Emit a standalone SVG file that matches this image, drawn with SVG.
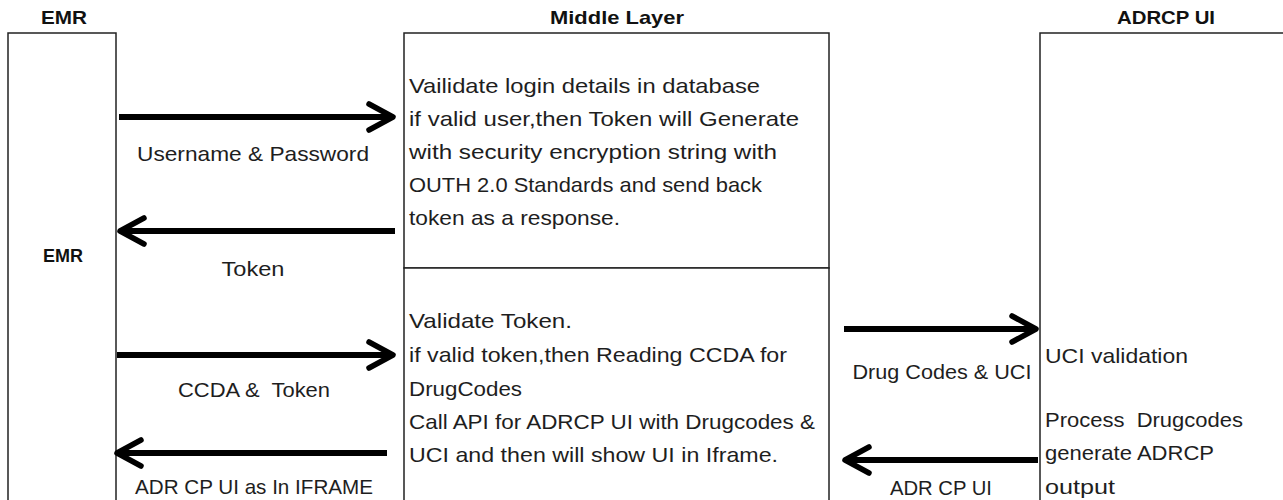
<svg xmlns="http://www.w3.org/2000/svg" width="1283" height="500" viewBox="0 0 1283 500">
<style>
.box{fill:#fff;stroke:#222;stroke-width:1.5}
.t{font-family:"Liberation Sans",Arial,sans-serif;font-size:21px;fill:#1e1e1e}
.h{font-family:"Liberation Sans",Arial,sans-serif;font-size:19px;font-weight:bold;fill:#111;text-anchor:middle}
.c{text-anchor:middle}
.arr{stroke:#000;stroke-width:6;fill:none;marker-end:url(#head)}
</style>
<defs>
<marker id="head" markerUnits="userSpaceOnUse" viewBox="-30 -20 36 40" refX="0" refY="0" markerWidth="36" markerHeight="40" orient="auto">
<path d="M-24,-13 L0,0 L-24,13" fill="none" stroke="#000" stroke-width="5.5" stroke-linecap="round" stroke-linejoin="round"/>
</marker>
</defs>
<rect width="1283" height="500" fill="#fff"/>
<g id="headers">
<text class="h" x="64" y="24" textLength="46" lengthAdjust="spacingAndGlyphs">EMR</text>
<text class="h" x="617" y="24" textLength="134" lengthAdjust="spacingAndGlyphs">Middle Layer</text>
<text class="h" x="1166" y="24" textLength="98" lengthAdjust="spacingAndGlyphs">ADRCP UI</text>
</g>
<g id="emr">
<rect class="box" x="8" y="33" width="108" height="480"/>
<text class="h" x="63" y="262" textLength="40" lengthAdjust="spacingAndGlyphs">EMR</text>
</g>
<g id="middle-auth">
<rect class="box" x="404" y="33" width="425" height="235"/>
<text class="t" x="409" y="93" textLength="351" lengthAdjust="spacingAndGlyphs">Vailidate login details in database</text>
<text class="t" x="409" y="126" textLength="390" lengthAdjust="spacingAndGlyphs">if valid user,then Token will Generate</text>
<text class="t" x="409" y="159" textLength="368" lengthAdjust="spacingAndGlyphs">with security encryption string with</text>
<text class="t" x="409" y="192" textLength="353" lengthAdjust="spacingAndGlyphs">OUTH 2.0 Standards and send back</text>
<text class="t" x="409" y="225" textLength="211" lengthAdjust="spacingAndGlyphs">token as a response.</text>
</g>
<g id="middle-process">
<rect class="box" x="404" y="268" width="425" height="245"/>
<text class="t" x="409" y="328" textLength="163" lengthAdjust="spacingAndGlyphs">Validate Token.</text>
<text class="t" x="409" y="362" textLength="378" lengthAdjust="spacingAndGlyphs">if valid token,then Reading CCDA for</text>
<text class="t" x="409" y="396" textLength="113" lengthAdjust="spacingAndGlyphs">DrugCodes</text>
<text class="t" x="409" y="429" textLength="406" lengthAdjust="spacingAndGlyphs">Call API for ADRCP UI with Drugcodes &amp;</text>
<text class="t" x="409" y="462" textLength="369" lengthAdjust="spacingAndGlyphs">UCI and then will show UI in Iframe.</text>
</g>
<g id="adrcp">
<rect class="box" x="1040" y="33" width="260" height="480"/>
<text class="t" x="1045" y="363" textLength="143" lengthAdjust="spacingAndGlyphs">UCI validation</text>
<text class="t" x="1045" y="427" textLength="198" lengthAdjust="spacingAndGlyphs" xml:space="preserve">Process  Drugcodes</text>
<text class="t" x="1045" y="460" textLength="169" lengthAdjust="spacingAndGlyphs">generate ADRCP</text>
<text class="t" x="1045" y="494" textLength="70" lengthAdjust="spacingAndGlyphs">output</text>
</g>
<g id="connectors">
<path class="arr" d="M119,117 H393"/>
<path class="arr" d="M395,231 H120"/>
<path class="arr" d="M117,355 H393"/>
<path class="arr" d="M387,453 H117"/>
<path class="arr" d="M844,329 H1036"/>
<path class="arr" d="M1038,460 H845"/>
</g>
<g id="labels">
<text class="t c" x="253" y="161" textLength="232" lengthAdjust="spacingAndGlyphs">Username &amp; Password</text>
<text class="t c" x="253" y="276" textLength="63" lengthAdjust="spacingAndGlyphs">Token</text>
<text class="t c" x="254" y="397" textLength="152" lengthAdjust="spacingAndGlyphs" xml:space="preserve">CCDA &amp;  Token</text>
<text class="t c" x="254" y="494" textLength="238" lengthAdjust="spacingAndGlyphs">ADR CP UI as In IFRAME</text>
<text class="t c" x="942" y="379" textLength="179" lengthAdjust="spacingAndGlyphs">Drug Codes &amp; UCI</text>
<text class="t c" x="941" y="495" textLength="102" lengthAdjust="spacingAndGlyphs">ADR CP UI</text>
</g>
</svg>
